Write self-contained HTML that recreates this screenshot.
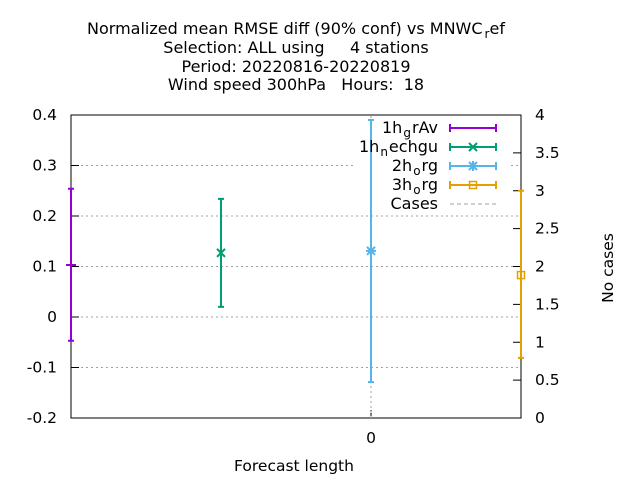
<!DOCTYPE html>
<html><head><meta charset="utf-8"><style>body{margin:0;background:#fff}svg{font-family:"DejaVu Sans","Liberation Sans",sans-serif}text{white-space:pre}</style></head>
<body>
<svg id="c" width="640" height="480" xmlns="http://www.w3.org/2000/svg" xml:space="preserve">
<g font-size="16" text-anchor="middle" fill="#000">
<text x="296" y="34">Normalized mean RMSE diff (90% conf) vs MNWC<tspan font-size="12" dy="4" dx="2">r</tspan><tspan dy="-4">ef</tspan></text>
<text x="296" y="53">Selection: ALL using     4 stations</text>
<text x="296" y="72">Period: 20220816-20220819</text>
<text x="296" y="90">Wind speed 300hPa   Hours:  18</text>
</g>
<g id="grid"></g><g id="legbg"></g><g id="axes"></g><g id="series"></g><g id="legend"></g>
<text x="294" y="471" font-size="15.5" text-anchor="middle">Forecast length</text>
<text transform="translate(613,268) rotate(-90)" font-size="15.5" text-anchor="middle">No cases</text>
</svg>
<script>
const seriesNames=["1h_grAv","1h_nechgu","2h_org","3h_org"];
const seriesX=[-2,-1,0,1];
const seriesMean=[0.103,0.127,0.131,0.083];
const seriesLow=[-0.047,0.020,-0.129,-0.081];
const seriesHigh=[0.254,0.234,0.39,0.25];
const casesX=[0];
const casesVal=[4];
const yTicks=[-0.2,-0.1,0,0.1,0.2,0.3,0.4];
const y2Ticks=[0,0.5,1,1.5,2,2.5,3,3.5,4];
const xTicks=[0];
const colors=["#9400d3","#009e73","#56b4e9","#e69f00"];
const L=71,R=521,T=115,B=418;
const xs=v=>L+(v+2)*(R-L)/3;
const ys=v=>B-(v+0.2)*(B-T)/0.6;
const y2=v=>B-v*(B-T)/4;
const NS="http://www.w3.org/2000/svg";
function mk(p,t,a){const e=document.createElementNS(NS,t);for(const k in a)e.setAttribute(k,a[k]);document.getElementById(p).appendChild(e);return e;}
yTicks.forEach(v=>{if(v>-0.2&&v<0.4){const g=mk('grid','line',{x1:L,x2:R,y1:ys(v),y2:ys(v),stroke:'#a0a0a0','stroke-dasharray':'2,3'});

}
const t=mk('axes','line',{x1:L,x2:L+8,y1:ys(v),y2:ys(v),stroke:'#000'});


const l=mk('axes','text',{x:L-14,y:ys(v)+5,'font-size':15.5,'text-anchor':'end'});l.textContent=(Math.round(v*10)/10).toString();

});
y2Ticks.forEach(v=>{const t=mk('axes','line',{x1:R-8,x2:R,y1:y2(v),y2:y2(v),stroke:'#000'});


const l=mk('axes','text',{x:R+14,y:y2(v)+5,'font-size':15.5});l.textContent=v.toString();

});
xTicks.forEach(v=>{const t=mk('axes','line',{x1:xs(v),x2:xs(v),y1:B,y2:B-8,stroke:'#000'});


const l=mk('axes','text',{x:xs(v),y:B+25,'font-size':15.5,'text-anchor':'middle'});l.textContent=v;

});
const lb=mk('legbg','rect',{x:354,y:113,width:154,height:100,fill:'#fff'});


const fr=mk('axes','rect',{x:L,y:T,width:R-L,height:B-T,fill:'none',stroke:'#000'});


casesX.forEach((v,i)=>{const c=mk('series','line',{x1:xs(v),x2:xs(v),y1:y2(0),y2:y2(casesVal[i]),stroke:'#a0a0a0','stroke-dasharray':'2,3'});

});
function marker(p,i,x,y){const c=colors[i];
if(i==0){mk(p,'line',{x1:x-5,x2:x+5,y1:y,y2:y,stroke:c,'stroke-width':2});}
else if(i==1){mk(p,'path',{d:`M${x-4} ${y-4}L${x+4} ${y+4}M${x-4} ${y+4}L${x+4} ${y-4}`,stroke:c,'stroke-width':2});}
else if(i==2){mk(p,'path',{d:`M${x-4} ${y-4}L${x+4} ${y+4}M${x-4} ${y+4}L${x+4} ${y-4}M${x-5} ${y}L${x+5} ${y}M${x} ${y-5}L${x} ${y+5}`,stroke:c,'stroke-width':2});}
else{mk(p,'rect',{x:x-3.5,y:y-3.5,width:7,height:7,fill:'none',stroke:c,'stroke-width':1.5});}}
seriesNames.forEach((n,i)=>{const x=xs(seriesX[i]),c=colors[i];
const b=mk('series','path',{d:`M${x} ${ys(seriesLow[i])}V${ys(seriesHigh[i])}M${x-3} ${ys(seriesLow[i])}H${x+3}M${x-3} ${ys(seriesHigh[i])}H${x+3}`,stroke:c,'stroke-width':2,fill:'none'});


marker('series',i,x,ys(seriesMean[i]));
const ly=128+i*19;
const ll=mk('legend','path',{d:`M450 ${ly}H496M450 ${ly-4}V${ly+4}M496 ${ly-4}V${ly+4}`,stroke:c,'stroke-width':2});


marker('legend',i,473,ly);
const p=n.split('_');
const t=mk('legend','text',{x:438,y:ly+5,'font-size':16,'text-anchor':'end'});
t.innerHTML=`${p[0][0]}h<tspan font-size="12" dy="4" dx="1">${p[1][0]}</tspan><tspan dy="-4" dx="1">${p[1].slice(1)}</tspan>`;

});
const cl=mk('legend','line',{x1:450,x2:496,y1:204,y2:204,stroke:'#a0a0a0','stroke-dasharray':'4,3'});


const ct=mk('legend','text',{x:438,y:209,'font-size':16,'text-anchor':'end'});ct.textContent='Cases';


</script>
</body></html>
